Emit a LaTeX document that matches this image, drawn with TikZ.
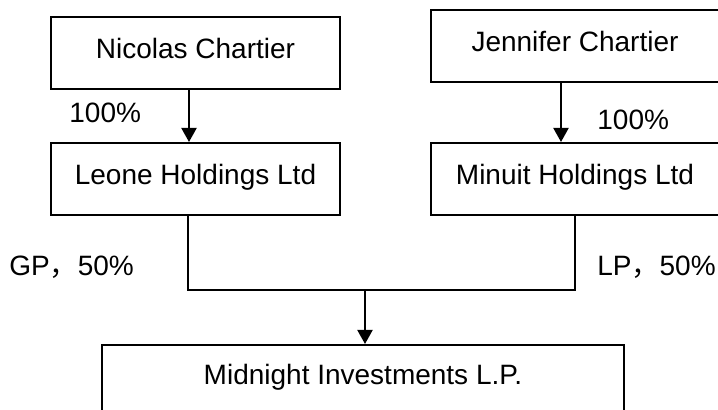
\documentclass[tikz,border=0pt]{standalone}
\usepackage{fontspec}
\setmainfont{Liberation Sans}
\newfontfamily\cjk{Noto Sans CJK SC}
\usetikzlibrary{arrows.meta}

\begin{document}
\begin{tikzpicture}[
        x=0.5pt, y=-0.5pt,
        font=\fontsize{14}{16}\selectfont,
        owner/.style={draw,line width=1pt,inner sep=0pt,minimum width=144.5pt,minimum height=36pt,
            text height=0.75em,text depth=0.2em},
        share/.style={inner sep=0pt,anchor=base west},
        link/.style={line width=1pt},
        arr/.style={link,-{Triangle[length=7pt,width=7.5pt]}},
        ]
    \useasboundingbox (0,0) rectangle (718,410);
    \clip (0,0) rectangle (718,410);

    \node [owner] (nc) at (195.5,53) {Nicolas Chartier};
    \node [owner] (jc) at (575,46.5) {Jennifer Chartier};
    \node [owner] (lh) at (195.5,179) {Leone Holdings Ltd};
    \node [owner] (mh) at (575,179) {Minuit Holdings Ltd};
    \node [owner,minimum width=261pt,minimum height=34pt] (mi) at (363,379) {Midnight Investments L.P.};

    % shares
    \node [share] (s1) at (69,123) {100\%};
    \node [share] (s2) at (597,130) {100\%};
    \node [share] (gp) at (9,276) {GP{\cjk ，}50\%};
    \node [share] (lp) at (597,276) {LP{\cjk ，}50\%};

    \draw [arr] ([xshift=-3.25pt]nc.south) -- ([xshift=-3.25pt]lh.north);
    \draw [arr] ([xshift=-7pt]jc.south) -- ([xshift=-7pt]mh.north);
    \coordinate (jn) at (365,290);
    \draw [link] ([xshift=-4pt]lh.south) |- (jn) -| (mh.south);
    \draw [arr] (jn) -- (jn |- mi.north);
\end{tikzpicture}
\end{document}
